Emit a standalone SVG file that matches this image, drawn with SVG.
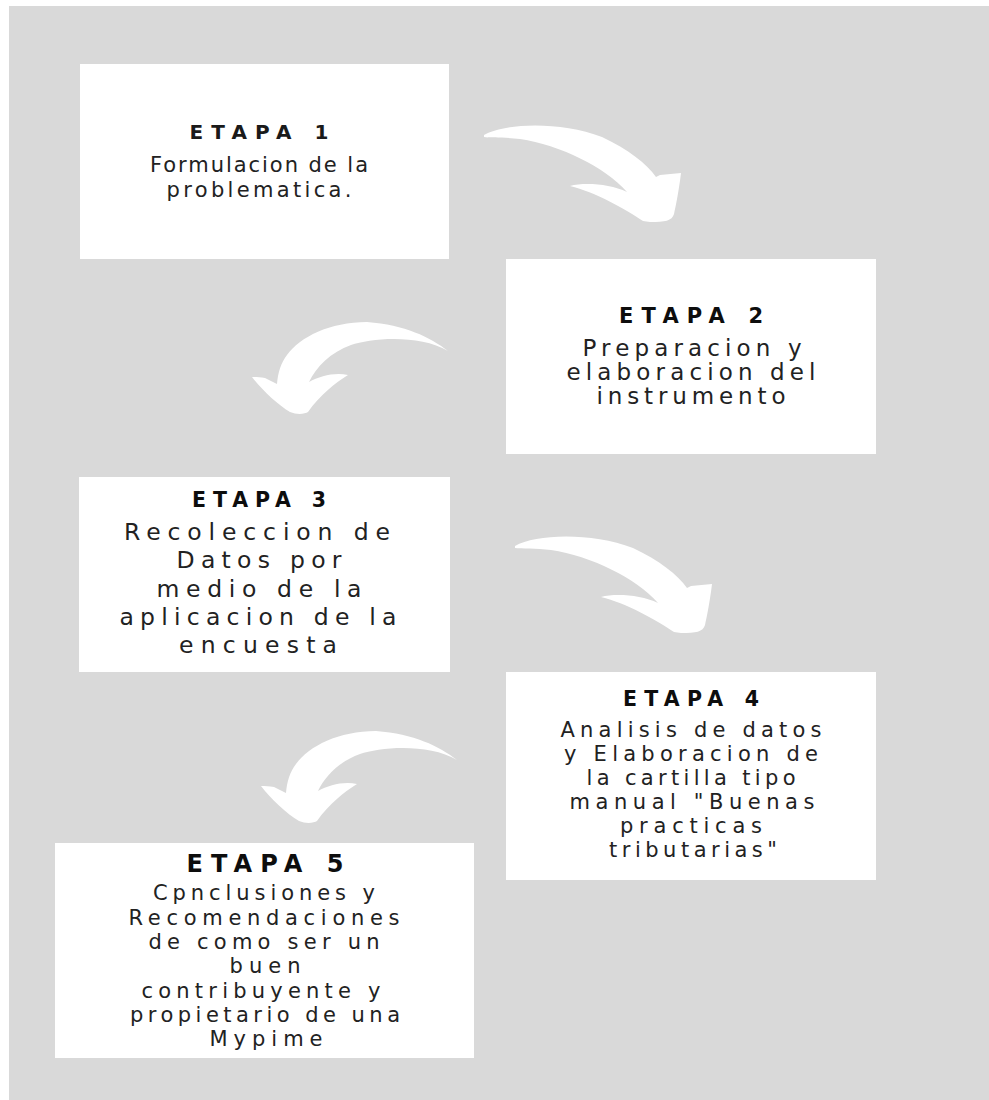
<svg xmlns="http://www.w3.org/2000/svg" width="989" height="1100" viewBox="0 0 989 1100">
<style>
.box{fill:#ffffff}
.arrow{fill:#ffffff}
.title{font-family:"DejaVu Sans","Liberation Sans",sans-serif;font-weight:700;fill:#0d0d0d;text-anchor:middle}
.title1{font-family:"DejaVu Sans","Liberation Sans",sans-serif;font-weight:700;fill:#1a1a1a;text-anchor:middle}
.body{font-family:"DejaVu Sans","Liberation Sans",sans-serif;font-weight:400;fill:#222222;text-anchor:middle}
</style>
<defs>
<path id="arrowRight" d="M484,135 C505,123 560,121 602,137 C628,149 647,164 656,177 L660,175 L681,173 C679,190 676,205 674,214 C672,221 665,222 650,222 L643,221 C625,209 595,192 570,186 C585,182 610,184 627,192 C605,167 560,145 520,139 C505,137 490,138 484,137 Z"/>
<path id="arrowLeft" d="M448,351 C430,337 405,325 367,322 C330,322 300,337 287,355 C281,363 278,372 277,384 L265,378 C260,377 256,377 252,377 C262,390 278,405 290,412 C297,415 305,414 308,412 C320,395 335,383 348,375 C335,372 320,376 309,382 C316,367 331,352 351,345 C371,338 420,334 448,351 Z"/>
</defs>
<rect x="0" y="0" width="989" height="1100" fill="#ffffff"/>
<rect x="9" y="6" width="980" height="1094" fill="#d9d9d9"/>

<g id="connectors">
<use href="#arrowRight" class="arrow"/>
<use href="#arrowLeft" class="arrow"/>
<use href="#arrowRight" class="arrow" transform="translate(31,411)"/>
<use href="#arrowLeft" class="arrow" transform="translate(9,409)"/>
</g>

<g id="etapa1">
<rect class="box" x="80" y="64" width="369" height="195"/>
<text class="title1" x="259" y="139" font-size="20" textLength="139" lengthAdjust="spacing">ETAPA 1</text>
<text class="body" x="259" y="172" font-size="21" textLength="218" lengthAdjust="spacing">Formulacion de la</text>
<text class="body" x="259" y="197" font-size="21" textLength="185" lengthAdjust="spacing">problematica.</text>
</g>

<g id="etapa2">
<rect class="box" x="506" y="259" width="370" height="195"/>
<text class="title" x="691" y="323" font-size="21" textLength="144" lengthAdjust="spacing">ETAPA 2</text>
<text class="body" x="692" y="356" font-size="23" textLength="219" lengthAdjust="spacing">Preparacion y</text>
<text class="body" x="691" y="380" font-size="23" textLength="249" lengthAdjust="spacing">elaboracion del</text>
<text class="body" x="691" y="404" font-size="23" textLength="189" lengthAdjust="spacing">instrumento</text>
</g>

<g id="etapa3">
<rect class="box" x="79" y="477" width="371" height="195"/>
<text class="title" x="259" y="507" font-size="20.5" textLength="134" lengthAdjust="spacing">ETAPA 3</text>
<text class="body" x="257" y="540" font-size="23.5" textLength="266" lengthAdjust="spacing">Recoleccion de</text>
<text class="body" x="259" y="568" font-size="23.5" textLength="165" lengthAdjust="spacing">Datos por</text>
<text class="body" x="259" y="597" font-size="23.5" textLength="205" lengthAdjust="spacing">medio de la</text>
<text class="body" x="258" y="625" font-size="23.5" textLength="277" lengthAdjust="spacing">aplicacion de la</text>
<text class="body" x="258" y="653" font-size="23.5" textLength="158" lengthAdjust="spacing">encuesta</text>
</g>

<g id="etapa4">
<rect class="box" x="506" y="672" width="370" height="208"/>
<text class="title" x="691" y="706" font-size="20.5" textLength="136" lengthAdjust="spacing">ETAPA 4</text>
<text class="body" x="691" y="737" font-size="21" textLength="261" lengthAdjust="spacing">Analisis de datos</text>
<text class="body" x="691" y="761" font-size="21" textLength="254" lengthAdjust="spacing">y Elaboracion de</text>
<text class="body" x="691" y="785" font-size="21" textLength="209" lengthAdjust="spacing">la cartilla tipo</text>
<text class="body" x="692" y="809" font-size="21" textLength="245" lengthAdjust="spacing">manual "Buenas</text>
<text class="body" x="691" y="833" font-size="21" textLength="142" lengthAdjust="spacing">practicas</text>
<text class="body" x="693" y="857" font-size="21" textLength="168" lengthAdjust="spacing">tributarias"</text>
</g>

<g id="etapa5">
<rect class="box" x="55" y="843" width="419" height="215"/>
<text class="title" x="265" y="872" font-size="24" textLength="157" lengthAdjust="spacing">ETAPA 5</text>
<text class="body" x="264" y="900" font-size="21" textLength="222" lengthAdjust="spacing">Cpnclusiones y</text>
<text class="body" x="264" y="925" font-size="21" textLength="271" lengthAdjust="spacing">Recomendaciones</text>
<text class="body" x="264" y="949" font-size="21" textLength="231" lengthAdjust="spacing">de como ser un</text>
<text class="body" x="265" y="973" font-size="21" textLength="71" lengthAdjust="spacing">buen</text>
<text class="body" x="261" y="998" font-size="21" textLength="239" lengthAdjust="spacing">contribuyente y</text>
<text class="body" x="265" y="1022" font-size="21" textLength="270" lengthAdjust="spacing">propietario de una</text>
<text class="body" x="266" y="1046" font-size="21" textLength="113" lengthAdjust="spacing">Mypime</text>
</g>
</svg>
